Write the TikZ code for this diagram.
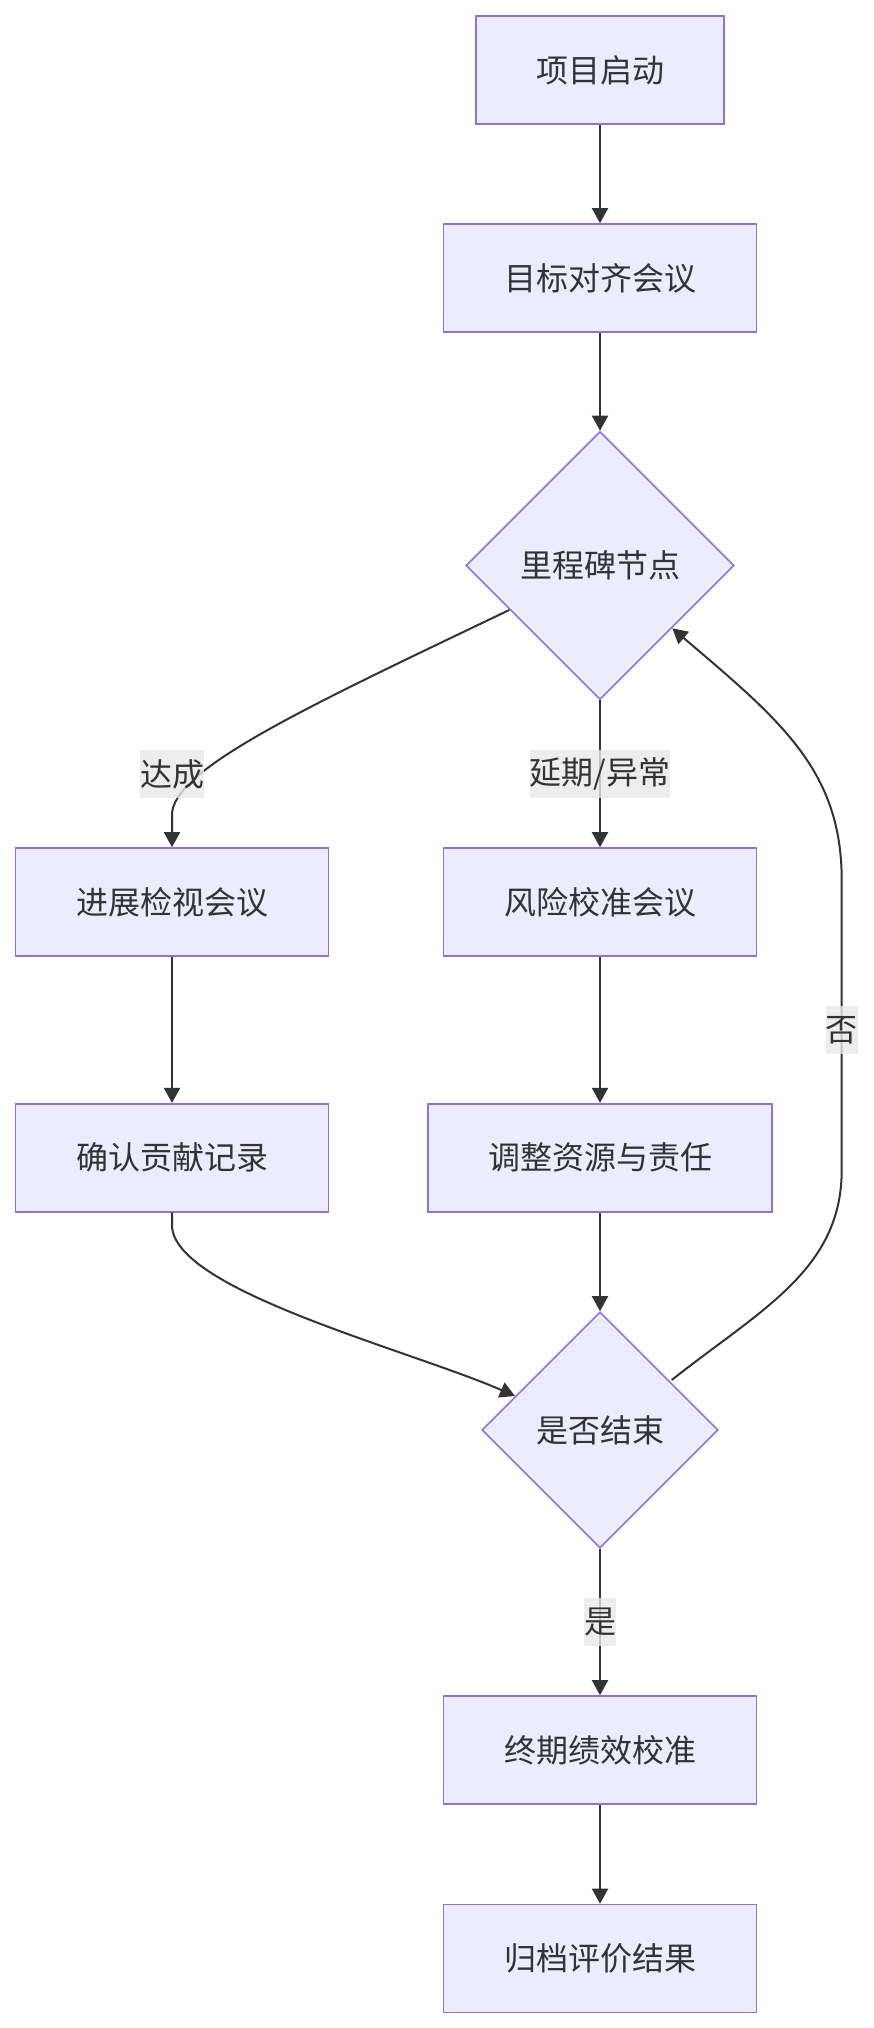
\documentclass[tikz,border=0pt]{standalone}
\usepackage{fontspec}
\setmainfont{Noto Sans CJK SC}
\usetikzlibrary{shapes.geometric,arrows.meta}
\definecolor{nodefill}{HTML}{ECECFF}
\definecolor{nodeline}{HTML}{9370DB}
\definecolor{edgecol}{HTML}{333333}
\definecolor{txtcol}{HTML}{333333}
\definecolor{lblfill}{HTML}{E8E8E8}
\tikzset{
  procbox/.style={draw=nodeline, fill=nodefill, line width=1.6pt, minimum height=108pt, inner sep=0pt, text=txtcol, font=\fontsize{32}{38}\selectfont},
  decision/.style={draw=nodeline, fill=nodefill, line width=1.6pt, shape=diamond, aspect=1, inner sep=0pt, text=txtcol, font=\fontsize{32}{38}\selectfont},
  flow/.style={draw=edgecol, line width=2pt, -{Triangle[length=15pt,width=16pt]}},
  elabel/.style={fill=lblfill, fill opacity=0.8, text opacity=1, text=txtcol, inner xsep=0pt, inner ysep=0pt, minimum height=48pt, font=\fontsize{32}{38}\selectfont}
}
\begin{document}
\begin{tikzpicture}[x=1pt,y=-1pt]
\useasboundingbox (0,0) rectangle (874,2028);
\node[procbox, minimum width=248pt] (start) at (600,70) {项目启动};
\node[procbox, minimum width=313pt] (align) at (600,278) {目标对齐会议};
\node[decision, minimum width=268pt, minimum height=268pt] (mile) at (600,565.5) {里程碑节点};
\node[procbox, minimum width=313pt] (review) at (172,902) {进展检视会议};
\node[procbox, minimum width=313pt] (risk) at (600,902) {风险校准会议};
\node[procbox, minimum width=313pt] (record) at (172,1157.7) {确认贡献记录};
\node[procbox, minimum width=344pt] (adjust) at (600,1157.7) {调整资源与责任};
\node[decision, minimum width=236pt, minimum height=236pt] (done) at (600,1430) {是否结束};
\node[procbox, minimum width=313pt] (final) at (600,1750) {终期绩效校准};
\node[procbox, minimum width=313pt] (archive) at (600,1958.5) {归档评价结果};

\coordinate (mileL) at (509.3,610);
\coordinate (mileR) at (672.3,628.3);
\coordinate (doneL) at (515,1396);
\coordinate (doneR) at (671.7,1380);

\draw[flow] (start) -- (align);
\draw[flow] (align) -- (mile);
\draw[flow] (mileL) .. controls (300,710) and (172,770) .. (172,815) -- (review.north);
\draw[flow] (mile) -- (risk);
\draw[flow] (review) -- (record);
\draw[flow] (risk) -- (adjust);
\draw[flow] (record.south) -- (172,1225) .. controls (172,1290) and (410,1350) .. (doneL);
\draw[flow] (adjust) -- (done);
\draw[flow] (doneR) .. controls (760,1310) and (841.7,1270) .. (841.7,1170) -- (841.7,880) .. controls (841.7,770) and (780,720) .. (mileR);
\draw[flow] (done) -- (final);
\draw[flow] (final) -- (archive);

\node[elabel] (lblA) at (172,774) {达成};
\node[elabel] (lblB) at (600,774) {延期/异常};
\node[elabel] (lblC) at (841.7,1030) {否};
\node[elabel] (lblD) at (600,1622) {是};
\end{tikzpicture}
\end{document}
